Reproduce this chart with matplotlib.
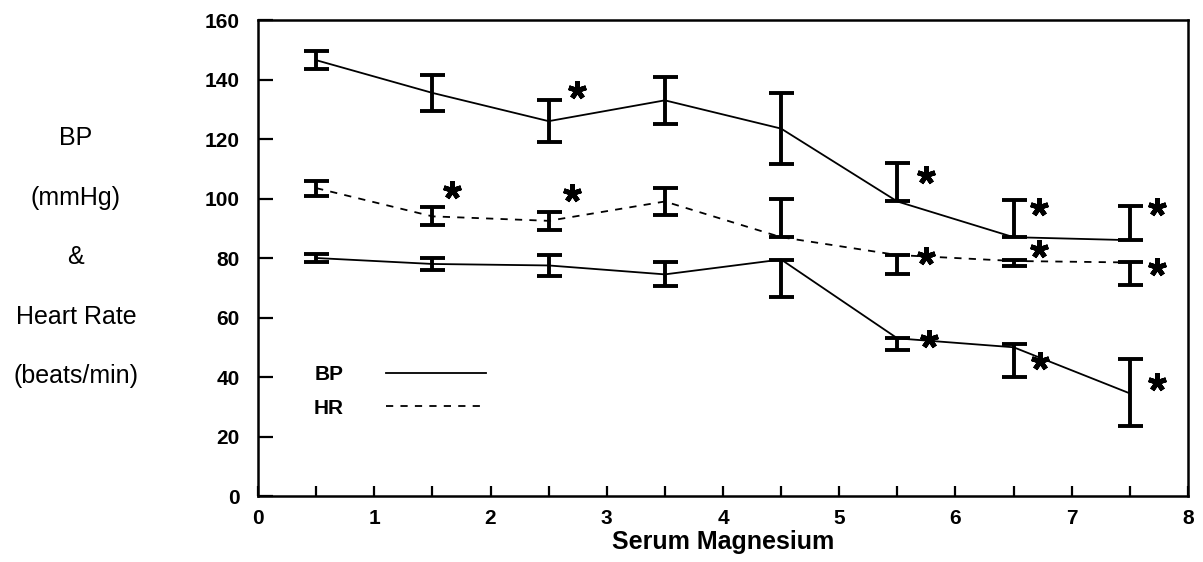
import numpy as np
import matplotlib.pyplot as plt

plt.rcParams['font.family'] = ['Liberation Sans', 'DejaVu Sans']

# Serum magnesium groups (x positions of the means)
mg = [0.5, 1.5, 2.5, 3.5, 4.5, 5.5, 6.5, 7.5]

# systolic BP (mmHg)
sbp = [146.5, 135.5, 126, 133, 123.5, 99, 87, 86]
sbp_lo = [3, 6, 7, 8, 12, 0, 0, 0]
sbp_hi = [3, 6, 7, 8, 12, 13, 12.5, 11.5]

# heart rate (beats/min)
hr = [103.5, 94, 92.5, 99, 87, 81, 79, 78.5]
hr_lo = [2.5, 3, 3, 4.5, 0, 6.5, 1.8, 7.5]
hr_hi = [2.5, 3, 3, 4.5, 13, 0, 0.5, 0]

# diastolic BP (mmHg)
dbp = [80, 78, 77.5, 74.5, 79.5, 53, 50, 34.5]
dbp_lo = [1.2, 2, 3.5, 4, 12.5, 4, 10, 11]
dbp_hi = [1.2, 2, 3.5, 4, 0, 0, 1, 11.5]

# significance markers (x, y)
star_x = [2.74, 5.75, 6.72, 7.73, 1.67, 2.70, 5.75, 6.72, 7.73, 5.77, 6.73, 7.73]
star_y = [136.5, 108, 97.2, 97.2, 103, 101.7, 80.8, 83, 77.1, 52.7, 45.5, 38.2]

fig = plt.figure(figsize=(12.03, 5.62), dpi=100)
ax = fig.add_axes([0.2145, 0.1174, 0.773, 0.847])

eb = dict(fmt='none', ecolor='black', elinewidth=2.8, capsize=9, capthick=2.8)

ax.plot(mg, sbp, color='black', lw=1.3, label='BP')
ax.errorbar(mg, sbp, yerr=[sbp_lo, sbp_hi], **eb)
ax.plot(mg, hr, color='black', lw=1.3, ls=(0, (4, 4)), label='HR')
ax.errorbar(mg, hr, yerr=[hr_lo, hr_hi], **eb)
ax.plot(mg, dbp, color='black', lw=1.3)
ax.errorbar(mg, dbp, yerr=[dbp_lo, dbp_hi], **eb)

ax.plot(star_x, star_y, ls='none', marker=(5, 2, 0), ms=13, mew=3.5, color='black')

ax.set_xlim(0, 8)
ax.set_ylim(0, 160)
ax.set_xticks(np.arange(0, 9, 1))
ax.set_xticks(np.arange(0.5, 8, 1), minor=True)
ax.set_yticks(np.arange(0, 161, 20))
ax.tick_params(axis='both', which='both', direction='in', width=1.6, labelsize=15)
ax.tick_params(axis='x', which='both', length=7, pad=9)
ax.tick_params(axis='y', length=11, pad=13)
for lab in ax.get_xticklabels() + ax.get_yticklabels():
    lab.set_fontweight('bold')
for s in ax.spines.values():
    s.set_linewidth(1.8)

ax.set_xlabel('Serum Magnesium', fontsize=18, fontweight='bold', labelpad=2)

ylab = ['BP', '(mmHg)', '&', 'Heart Rate', '(beats/min)']
for i, t in enumerate(ylab):
    fig.text(76 / 1203, 1 - (138 + 59.5 * i) / 562, t, fontsize=18,
             ha='center', va='center')

leg = ax.legend(loc='lower left', bbox_to_anchor=(0.04, 0.125), frameon=False,
                markerfirst=False, handlelength=4.8, handletextpad=2.0,
                labelspacing=0.7, prop={'size': 15, 'weight': 'bold'})

fig.savefig('out.png', dpi=100)
